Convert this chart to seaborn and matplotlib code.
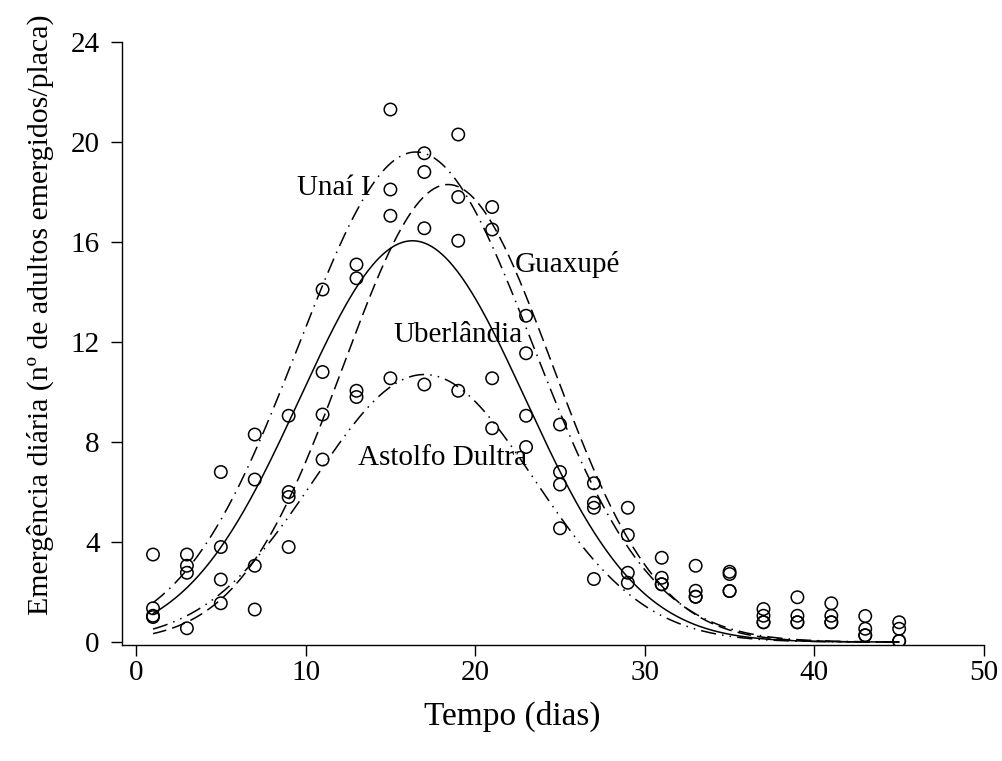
import numpy as np
import pandas as pd
import matplotlib
matplotlib.use("Agg")
import matplotlib.pyplot as plt
import seaborn as sns

# ---- observed points (days and four observations per day) ----
days = [1, 3, 5, 7, 9, 11, 13, 15, 17, 19, 21, 23, 25, 27, 29, 31, 33, 35, 37, 39, 41, 43, 45]
obs_a = [3.50, 3.50, 6.80, 8.30, 9.05, 14.10, 15.10, 21.30, 19.55, 20.30, 17.40, 13.05, 8.70, 6.35, 5.37, 3.37, 3.05, 2.81, 1.32, 1.79, 1.55, 1.04, 0.79]
obs_b = [1.35, 3.05, 3.80, 6.50, 6.00, 10.80, 14.55, 18.10, 18.80, 17.80, 16.50, 11.55, 6.80, 5.57, 4.28, 2.57, 2.05, 2.72, 1.05, 1.05, 1.05, 0.53, 0.53]
obs_c = [1.05, 2.77, 2.50, 3.05, 5.80, 9.10, 10.05, 17.05, 16.55, 16.05, 10.55, 9.05, 6.30, 5.37, 2.77, 2.31, 1.81, 2.04, 0.79, 0.79, 0.79, 0.27, 0.04]
obs_d = [1.00, 0.55, 1.55, 1.30, 3.80, 7.30, 9.80, 10.55, 10.30, 10.05, 8.55, 7.80, 4.55, 2.52, 2.37, 2.31, 1.81, 2.04, 0.79, 0.79, 0.79, 0.27, 0.04]

# ---- fitted peak curves (coefficients) ----
sites = ["Unaí I", "Guaxupé", "Uberlândia", "Astolfo Dultra"]
fit_peak = [19.6, 18.3, 16.05, 10.7]
fit_center = [16.5, 18.4, 16.3, 17.0]
fit_width = [6.9, 6.15, 6.65, 6.5]
label_x = [9.5, 22.35, 15.2, 13.1]
label_y = [17.9, 14.8, 12.0, 7.1]

sns.set_style("ticks")
plt.rcParams["font.family"] = ["Liberation Serif", "DejaVu Serif"]
plt.rcParams["text.color"] = "black"
plt.rcParams["axes.labelcolor"] = "black"

fig = plt.figure(figsize=(10.03, 7.61), dpi=100)
ax = fig.add_axes([0.1216, 0.1524, 0.981 - 0.1216, 0.9448 - 0.1524])

# curves
t = np.linspace(1, 45, 500)
rows = []
for s, a, c, w in zip(sites, fit_peak, fit_center, fit_width):
    y = a * np.exp(-0.5 * ((t - c) / w) ** 2)
    rows.append(pd.DataFrame({"t": t, "y": y, "site": s}))
curves = pd.concat(rows, ignore_index=True)
dash_map = {
    "Unaí I": (10, 4, 1, 4),
    "Guaxupé": (9, 4),
    "Uberlândia": "",
    "Astolfo Dultra": (10, 4, 1, 4, 1, 4),
}
sns.lineplot(data=curves, x="t", y="y", style="site", dashes=dash_map,
             color="black", linewidth=1.1, legend=False, ax=ax, sort=False,
             estimator=None)

# points
pts = pd.DataFrame({
    "day": days * 4,
    "value": obs_a + obs_b + obs_c + obs_d,
})
sns.scatterplot(data=pts, x="day", y="value", marker="o", s=80,
                facecolors="none", edgecolor="black", linewidth=1.1,
                ax=ax, zorder=3)

for s, lx, ly in zip(sites, label_x, label_y):
    ax.text(lx, ly, s, fontsize=21, ha="left", va="baseline", color="black")

ax.set_xlim(-0.83, 50)
ax.set_ylim(-0.12, 24)
ax.set_xticks([0, 10, 20, 30, 40, 50])
ax.set_yticks([0, 4, 8, 12, 16, 20, 24])
ax.tick_params(axis="both", direction="out", length=8, width=1.0,
               labelsize=21, color="black", labelcolor="black")
ax.tick_params(axis="x", pad=3)
ax.tick_params(axis="y", pad=8)
for sp in ["top", "right"]:
    ax.spines[sp].set_visible(False)
for sp in ["left", "bottom"]:
    ax.spines[sp].set_color("black")
    ax.spines[sp].set_linewidth(1.0)

ax.set_xlabel("Tempo (dias)", fontsize=24)
ax.set_ylabel("Emergência diária (nº de adultos emergidos/placa)", fontsize=21.5)
# label centres placed where the reference has them (figure pixels -> axes coords)
ax.xaxis.set_label_coords((512 - 122) / (984 - 122), (645 - 716) / (645 - 42))
ax.yaxis.set_label_coords((40 - 122) / (984 - 122), (645 - 315) / (645 - 42))
ax.xaxis.label.set_va("center")
ax.yaxis.label.set_va("center")

fig.savefig("out.png", dpi=100, facecolor="white")
